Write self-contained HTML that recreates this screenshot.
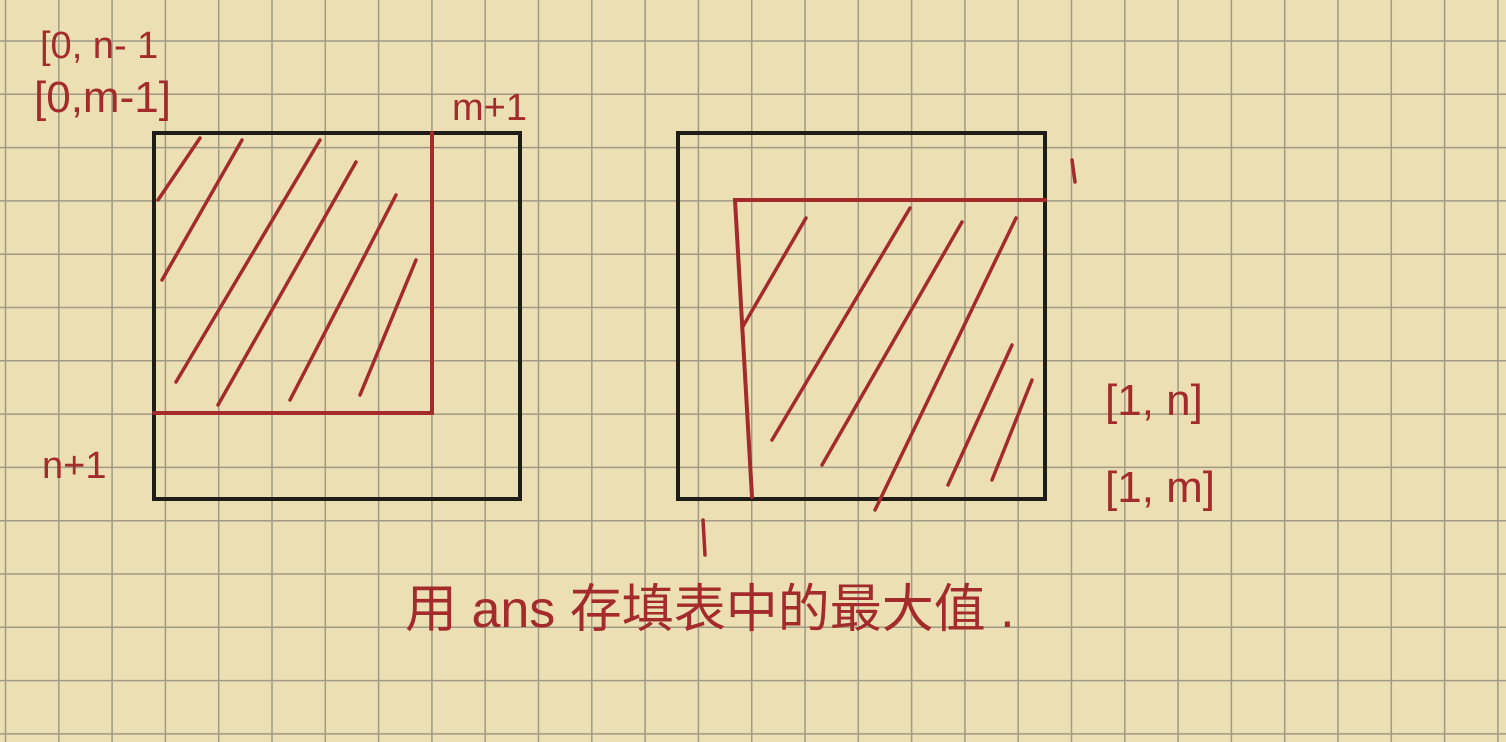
<!DOCTYPE html>
<html><head><meta charset="utf-8"><style>
html,body{margin:0;padding:0;width:1506px;height:742px;overflow:hidden;background:#ecdfb3}
svg{display:block}
text{font-family:"Liberation Sans","Noto Sans CJK SC",sans-serif;fill:#a32b2b}
</style></head><body>
<svg width="1506" height="742" viewBox="0 0 1506 742">
<rect width="1506" height="742" fill="#ecdfb3"/>
<g id="grid" stroke="#a09a86" stroke-width="1.5"></g>
<g fill="none" stroke-linecap="round">
<rect x="154" y="133" width="366" height="366" stroke="#1e1d17" stroke-width="4"/>
<path d="M154 413 L432 413 L432 133" stroke="#a32b2b" stroke-width="4"/>
<path d="M158 200 L200 138 M162 280 L242 140 M176 382 L320 140 M218 405 L356 162 M290 400 L396 195 M360 395 L416 260" stroke="#a32b2b" stroke-width="3.5"/>
</g>
<g fill="none" stroke-linecap="round">
<rect x="678" y="133" width="367" height="366" stroke="#1e1d17" stroke-width="4"/>
<path d="M752 497 L735 200 L1045 200" stroke="#a32b2b" stroke-width="4"/>
<path d="M742 328 L806 218 M772 440 L910 208 M822 465 L962 222 M875 510 L1016 218 M948 485 L1012 345 M992 480 L1032 380" stroke="#a32b2b" stroke-width="3.5"/>
<path d="M1072 160 L1075 182 M703 520 L705 555" stroke="#a32b2b" stroke-width="3.5"/>
</g>
<text x="40" y="58" font-size="38">[0, n- 1</text>
<text x="34" y="112" font-size="44">[0,m-1]</text>
<text x="452" y="120" font-size="38">m+1</text>
<text x="42" y="478" font-size="38">n+1</text>
<text x="1105" y="415" font-size="44">[1, n]</text>
<text x="1105" y="502" font-size="44">[1, m]</text>
<text x="405" y="627" font-size="52">用 ans 存填表中的最大值 .</text>
</svg>
<script>
var g=document.getElementById('grid');
for(var x=5.5;x<1506;x+=53.3){var l=document.createElementNS('http://www.w3.org/2000/svg','line');l.setAttribute('x1',x);l.setAttribute('x2',x);l.setAttribute('y1',0);l.setAttribute('y2',742);g.appendChild(l);}
for(var y=41-53.3;y<742;y+=53.3){var l=document.createElementNS('http://www.w3.org/2000/svg','line');l.setAttribute('y1',y);l.setAttribute('y2',y);l.setAttribute('x1',0);l.setAttribute('x2',1506);g.appendChild(l);}
</script>
</body></html>
